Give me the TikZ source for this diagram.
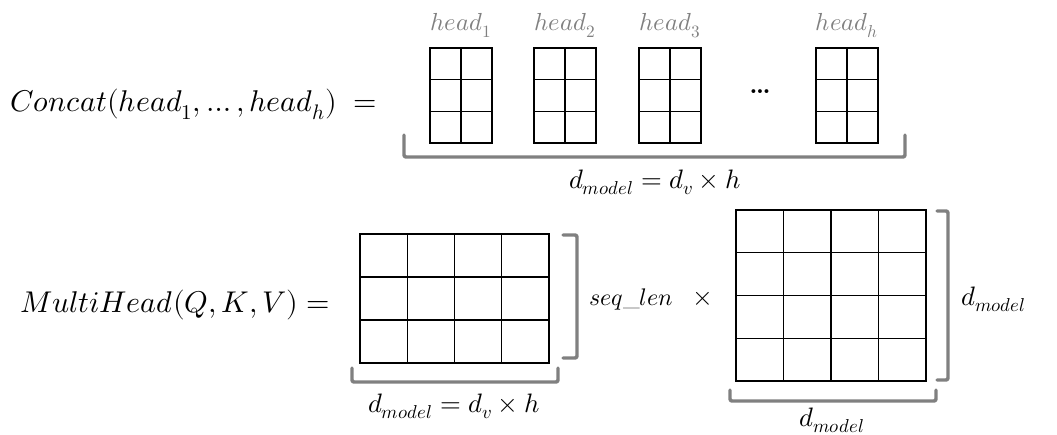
\documentclass[tikz,border=0pt]{standalone}
\usepackage{unicode-math}
\setmathfont{Latin Modern Math}
\usetikzlibrary{calc}
\definecolor{brkgray}{RGB}{128,128,128}
\tikzset{
  px/.style={x=0.75pt,y=-0.75pt},
  gridbox/.style={draw=black,line width=1pt,inner sep=0pt,outer sep=0pt,rectangle},
  gridline/.style={draw=black,line width=1pt},
  brk/.style={draw=brkgray,line width=2.6pt,line cap=round,line join=round,rounded corners=1.5pt},
  bigmath/.style={inner sep=0pt,anchor=base west,font=\fontsize{22.5}{26}\selectfont},
  lblmath/.style={inner sep=0pt,anchor=base,font=\fontsize{20}{24}\selectfont},
  headlbl/.style={inner sep=0pt,anchor=base,text=brkgray,font=\fontsize{18.5}{22}\selectfont},
}
\newcommand\mtx[7]{%
  \node[gridbox,anchor=north west,minimum width=#4*0.75pt,minimum height=#5*0.75pt] (#1) at (#2,#3) {};
  \foreach \k [evaluate=\k as \f using \k/#6] in {1,...,#6}
    {\draw[gridline] ($(#1.north west)!\f!(#1.north east)$) -- ($(#1.south west)!\f!(#1.south east)$);}
  \foreach \k [evaluate=\k as \f using \k/#7] in {1,...,#7}
    {\draw[gridline] ($(#1.north west)!\f!(#1.south west)$) -- ($(#1.north east)!\f!(#1.south east)$);}
}
\begin{document}
\begin{tikzpicture}[px]
\useasboundingbox (0,0) rectangle (1057,435);
% top row
\node[bigmath] (concat) at (10,112) {$Concat(head_1,\ldots,head_h)\;=$};
\mtx{h1}{430}{48}{62}{95}{2}{3}
\mtx{h2}{534}{48}{62}{95}{2}{3}
\mtx{h3}{639}{48}{62}{95}{2}{3}
\mtx{hh}{816}{48}{62}{95}{2}{3}
\node[headlbl] (l1) at (461,31) {$head_1$};
\node[headlbl] (l2) at (565,31) {$head_2$};
\node[headlbl] (l3) at (670,31) {$head_3$};
\node[headlbl] (lh) at (847,31) {$head_h$};
\node[inner sep=0pt,font=\fontsize{20}{24}\selectfont\bfseries] (dots) at (760,92) {\ldots};
\coordinate (tb1) at (404,135);
\coordinate (tb2) at (404,157);
\coordinate (tb3) at (905,157);
\coordinate (tb4) at (905,135);
\draw[brk] (tb1) -- (tb2) -- (tb3) -- (tb4);
\node[lblmath] (tlbl) at (655,188) {$d_{model}=d_v\times h$};
% bottom row
\node[bigmath] (multi) at (20,312) {$MultiHead(Q,K,V)=$};
\mtx{A}{360}{234}{189}{129}{4}{3}
\mtx{B}{736}{210}{190}{171}{4}{4}
\coordinate (ar1) at (563,235);
\coordinate (ar2) at (577,235);
\coordinate (ar3) at (577,358);
\coordinate (ar4) at (563,358);
\draw[brk] (ar1) -- (ar2) -- (ar3) -- (ar4);
\coordinate (ab1) at (352,368);
\coordinate (ab2) at (352,382);
\coordinate (ab3) at (558,382);
\coordinate (ab4) at (558,368);
\draw[brk] (ab1) -- (ab2) -- (ab3) -- (ab4);
\coordinate (br1) at (937,211);
\coordinate (br2) at (948,211);
\coordinate (br3) at (948,380);
\coordinate (br4) at (937,380);
\draw[brk] (br1) -- (br2) -- (br3) -- (br4);
\coordinate (bb1) at (730,390);
\coordinate (bb2) at (730,401);
\coordinate (bb3) at (936,401);
\coordinate (bb4) at (936,390);
\draw[brk] (bb1) -- (bb2) -- (bb3) -- (bb4);
\node[lblmath] (albl) at (454,412) {$d_{model}=d_v\times h$};
\node[lblmath,anchor=base west,font=\fontsize{18}{22}\selectfont] (seq) at (589,305) {$seq\_len$};
\node[lblmath] (times) at (703,305) {$\times$};
\node[lblmath,anchor=base west] (brl) at (961,305) {$d_{model}$};
\node[lblmath] (bbl) at (832,426) {$d_{model}$};
\end{tikzpicture}
\end{document}
